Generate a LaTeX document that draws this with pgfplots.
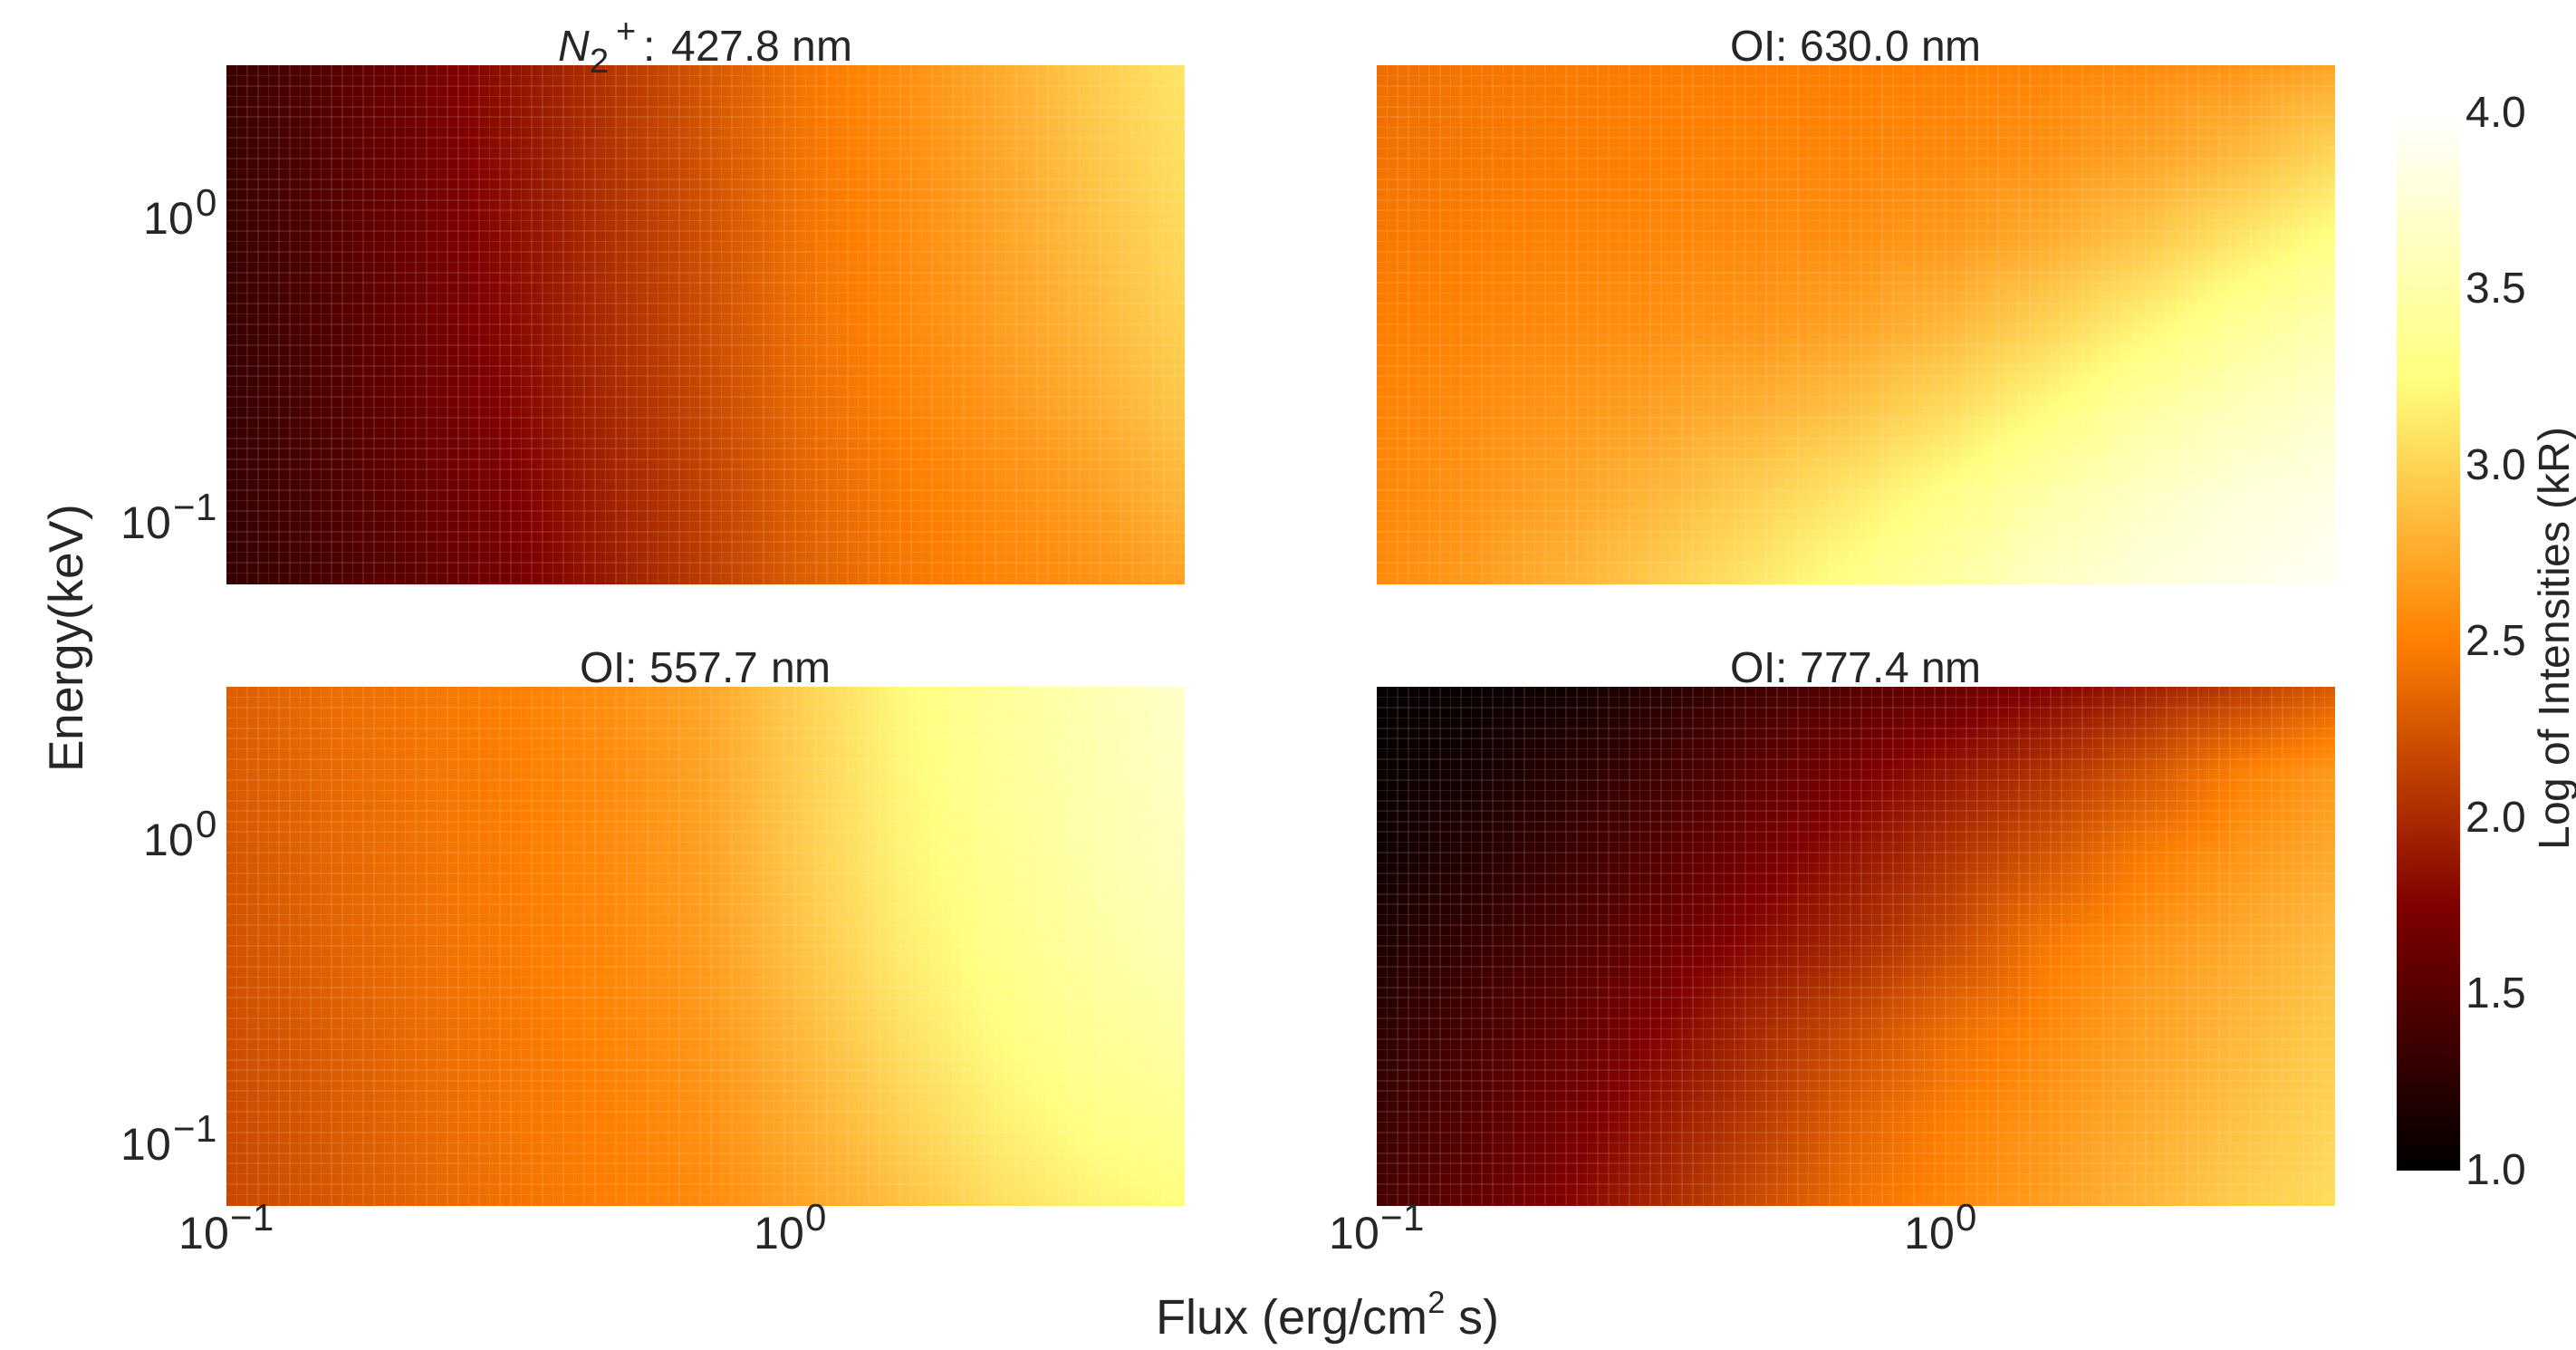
\documentclass[border=0pt]{standalone}
\usepackage{fontspec}
\setmainfont{Liberation Sans}
\usepackage{pgfplots}
\pgfplotsset{compat=1.18}
\definecolor{txt}{gray}{0.15}
\newcommand\lsup[1]{\kern0.5pt\raisebox{0.4em}{\fontsize{10.5}{10.5}\selectfont #1}}
\newcommand\cellgrid{%
  \foreach \i in {1,...,90}{\draw[white, opacity=0.1, line width=0.4pt] (axis description cs:\i/91,0) -- (axis description cs:\i/91,1);}%
  \foreach \i in {1,...,49}{\draw[white, opacity=0.1, line width=0.4pt] (axis description cs:0,\i/50) -- (axis description cs:1,\i/50);}%
}
\pgfplotsset{colormap={afmhot}{rgb=(0,0,0) rgb=(.5,0,0) rgb=(1,.5,0) rgb=(1,1,.5) rgb=(1,1,1)}}
\pgfplotsset{
  /pgfplots/hmpanel/.style={
    scale only axis, width=264.5pt, height=143pt,
    xmin=0.1, xmax=5, ymin=0.06, ymax=3,
    view={0}{90}, colormap name=afmhot, point meta min=1, point meta max=4,
    axis line style={draw=none}, major tick length=0pt, minor tick length=0pt,
    xtick={0.1,1}, ytick={0.1,1},
    xticklabels={}, yticklabels={},
    tick label style={font=\fontsize{12.5}{12.5}\selectfont, text=txt},
    title style={font=\fontsize{12}{12}\selectfont, text=txt, yshift=-7.2pt, inner sep=2pt},
    anchor=south west, clip=true,
    xticklabel style={yshift=3.7pt},
    yticklabel style={xshift=0.9pt, yshift=-0.3pt},
    after end axis/.code={\cellgrid},
  },
  /pgfplots/hmsurf/.style={surf, shader=interp, mesh/rows=7, mesh/cols=11, mesh/ordering=x varies, point meta=z},
}
\begin{document}
\begin{tikzpicture}[x=1pt,y=1pt]
\path[use as bounding box] (0,0) rectangle (711,372.25);

% N2+ 427.8 nm
\begin{loglogaxis}[hmpanel, at={(62.5pt,211.25pt)},
  yticklabels={10\lsup{−1},10\lsup{0}},
  title={\textit{N}\raisebox{-0.28em}[0pt][0pt]{\fontsize{9.5}{9.5}\selectfont 2}\,\raisebox{0.42em}[0pt][0pt]{\fontsize{9.5}{9.5}\selectfont +}\,: 427.8 nm}]
\addplot3[hmsurf] table[row sep=\\]{
x y z\\
0.1 0.06 1.31\\ 0.148 0.06 1.42\\ 0.219 0.06 1.56\\ 0.324 0.06 1.70\\ 0.479 0.06 1.90\\ 0.708 0.06 2.10\\ 1.047 0.06 2.30\\ 1.549 0.06 2.44\\ 2.29 0.06 2.52\\ 3.39 0.06 2.60\\ 5 0.06 2.70\\
0.1 0.115 1.31\\ 0.148 0.115 1.44\\ 0.219 0.115 1.59\\ 0.324 0.115 1.74\\ 0.479 0.115 1.94\\ 0.708 0.115 2.13\\ 1.047 0.115 2.33\\ 1.549 0.115 2.47\\ 2.29 0.115 2.57\\ 3.39 0.115 2.68\\ 5 0.115 2.82\\
0.1 0.221 1.31\\ 0.148 0.221 1.46\\ 0.219 0.221 1.62\\ 0.324 0.221 1.78\\ 0.479 0.221 1.98\\ 0.708 0.221 2.17\\ 1.047 0.221 2.37\\ 1.549 0.221 2.51\\ 2.29 0.221 2.62\\ 3.39 0.221 2.76\\ 5 0.221 2.92\\
0.1 0.424 1.32\\ 0.148 0.424 1.47\\ 0.219 0.424 1.64\\ 0.324 0.424 1.81\\ 0.479 0.424 2.01\\ 0.708 0.424 2.20\\ 1.047 0.424 2.40\\ 1.549 0.424 2.54\\ 2.29 0.424 2.67\\ 3.39 0.424 2.82\\ 5 0.424 2.98\\
0.1 0.815 1.33\\ 0.148 0.815 1.48\\ 0.219 0.815 1.65\\ 0.324 0.815 1.83\\ 0.479 0.815 2.03\\ 0.708 0.815 2.22\\ 1.047 0.815 2.42\\ 1.549 0.815 2.56\\ 2.29 0.815 2.70\\ 3.39 0.815 2.87\\ 5 0.815 3.03\\
0.1 1.565 1.33\\ 0.148 1.565 1.49\\ 0.219 1.565 1.66\\ 0.324 1.565 1.85\\ 0.479 1.565 2.05\\ 0.708 1.565 2.24\\ 1.047 1.565 2.43\\ 1.549 1.565 2.57\\ 2.29 1.565 2.72\\ 3.39 1.565 2.91\\ 5 1.565 3.07\\
0.1 3 1.34\\ 0.148 3 1.50\\ 0.219 3 1.67\\ 0.324 3 1.86\\ 0.479 3 2.06\\ 0.708 3 2.26\\ 1.047 3 2.44\\ 1.549 3 2.58\\ 2.29 3 2.74\\ 3.39 3 2.94\\ 5 3 3.10\\
};
\end{loglogaxis}

% OI 630.0 nm
\begin{loglogaxis}[hmpanel, at={(380pt,211.25pt)}, title={OI: 630.0 nm}]
\addplot3[hmsurf] table[row sep=\\]{
x y z\\
0.1 0.06 2.56\\ 0.148 0.06 2.66\\ 0.219 0.06 2.80\\ 0.324 0.06 2.96\\ 0.479 0.06 3.12\\ 0.708 0.06 3.30\\ 1.047 0.06 3.48\\ 1.549 0.06 3.66\\ 2.29 0.06 3.78\\ 3.39 0.06 3.87\\ 5 0.06 3.93\\
0.1 0.115 2.54\\ 0.148 0.115 2.62\\ 0.219 0.115 2.72\\ 0.324 0.115 2.84\\ 0.479 0.115 2.98\\ 0.708 0.115 3.13\\ 1.047 0.115 3.30\\ 1.549 0.115 3.50\\ 2.29 0.115 3.66\\ 3.39 0.115 3.78\\ 5 0.115 3.86\\
0.1 0.221 2.52\\ 0.148 0.221 2.57\\ 0.219 0.221 2.63\\ 0.324 0.221 2.70\\ 0.479 0.221 2.79\\ 0.708 0.221 2.90\\ 1.047 0.221 3.05\\ 1.549 0.221 3.24\\ 2.29 0.221 3.44\\ 3.39 0.221 3.60\\ 5 0.221 3.72\\
0.1 0.424 2.49\\ 0.148 0.424 2.52\\ 0.219 0.424 2.56\\ 0.324 0.424 2.59\\ 0.479 0.424 2.63\\ 0.708 0.424 2.71\\ 1.047 0.424 2.83\\ 1.549 0.424 2.99\\ 2.29 0.424 3.18\\ 3.39 0.424 3.38\\ 5 0.424 3.53\\
0.1 0.815 2.46\\ 0.148 0.815 2.49\\ 0.219 0.815 2.52\\ 0.324 0.815 2.54\\ 0.479 0.815 2.56\\ 0.708 0.815 2.59\\ 1.047 0.815 2.65\\ 1.549 0.815 2.76\\ 2.29 0.815 2.91\\ 3.39 0.815 3.10\\ 5 0.815 3.28\\
0.1 1.565 2.42\\ 0.148 1.565 2.45\\ 0.219 1.565 2.48\\ 0.324 1.565 2.50\\ 0.479 1.565 2.52\\ 0.708 1.565 2.53\\ 1.047 1.565 2.55\\ 1.549 1.565 2.60\\ 2.29 1.565 2.69\\ 3.39 1.565 2.83\\ 5 1.565 3.00\\
0.1 3 2.40\\ 0.148 3 2.44\\ 0.219 3 2.47\\ 0.324 3 2.48\\ 0.479 3 2.48\\ 0.708 3 2.49\\ 1.047 3 2.50\\ 1.549 3 2.52\\ 2.29 3 2.56\\ 3.39 3 2.62\\ 5 3 2.72\\
};
\end{loglogaxis}

% OI 557.7 nm
\begin{loglogaxis}[hmpanel, at={(62.5pt,39.75pt)},
  yticklabels={10\lsup{−1},10\lsup{0}}, xticklabels={10\lsup{−1},10\lsup{0}},
  title={OI: 557.7 nm}]
\addplot3[hmsurf] table[row sep=\\]{
x y z\\
0.1 0.06 2.17\\ 0.148 0.06 2.25\\ 0.219 0.06 2.34\\ 0.324 0.06 2.42\\ 0.479 0.06 2.49\\ 0.708 0.06 2.56\\ 1.047 0.06 2.71\\ 1.549 0.06 2.87\\ 2.29 0.06 3.05\\ 3.39 0.06 3.17\\ 5 0.06 3.24\\
0.1 0.115 2.19\\ 0.148 0.115 2.27\\ 0.219 0.115 2.36\\ 0.324 0.115 2.44\\ 0.479 0.115 2.50\\ 0.708 0.115 2.60\\ 1.047 0.115 2.77\\ 1.549 0.115 2.97\\ 2.29 0.115 3.15\\ 3.39 0.115 3.28\\ 5 0.115 3.36\\
0.1 0.221 2.21\\ 0.148 0.221 2.29\\ 0.219 0.221 2.38\\ 0.324 0.221 2.45\\ 0.479 0.221 2.53\\ 0.708 0.221 2.64\\ 1.047 0.221 2.84\\ 1.549 0.221 3.06\\ 2.29 0.221 3.24\\ 3.39 0.221 3.37\\ 5 0.221 3.47\\
0.1 0.424 2.23\\ 0.148 0.424 2.32\\ 0.219 0.424 2.40\\ 0.324 0.424 2.47\\ 0.479 0.424 2.54\\ 0.708 0.424 2.67\\ 1.047 0.424 2.90\\ 1.549 0.424 3.13\\ 2.29 0.424 3.30\\ 3.39 0.424 3.44\\ 5 0.424 3.55\\
0.1 0.815 2.25\\ 0.148 0.815 2.34\\ 0.219 0.815 2.41\\ 0.324 0.815 2.48\\ 0.479 0.815 2.56\\ 0.708 0.815 2.69\\ 1.047 0.815 2.94\\ 1.549 0.815 3.17\\ 2.29 0.815 3.34\\ 3.39 0.815 3.49\\ 5 0.815 3.61\\
0.1 1.565 2.28\\ 0.148 1.565 2.36\\ 0.219 1.565 2.43\\ 0.324 1.565 2.49\\ 0.479 1.565 2.57\\ 0.708 1.565 2.71\\ 1.047 1.565 2.96\\ 1.549 1.565 3.19\\ 2.29 1.565 3.37\\ 3.39 1.565 3.51\\ 5 1.565 3.65\\
0.1 3 2.30\\ 0.148 3 2.38\\ 0.219 3 2.44\\ 0.324 3 2.50\\ 0.479 3 2.59\\ 0.708 3 2.72\\ 1.047 3 2.97\\ 1.549 3 3.21\\ 2.29 3 3.39\\ 3.39 3 3.53\\ 5 3 3.68\\
};
\end{loglogaxis}

% OI 777.4 nm
\begin{loglogaxis}[hmpanel, at={(380pt,39.75pt)},
  xticklabels={10\lsup{−1},10\lsup{0}},
  title={OI: 777.4 nm},
  colorbar, colorbar/width=17.5pt,
  colorbar style={
    at={(1.06427,0.0678)}, anchor=south west,
    scale only axis, height=291.9pt,
    ymin=1, ymax=4, ytick={1,1.5,2,2.5,3,3.5,4},
    yticklabel style={/pgf/number format/.cd, fixed, fixed zerofill, precision=1, assume math mode=true, /tikz/.cd, font=\fontsize{12}{12}\selectfont, text=txt, xshift=-1.8pt},
    axis line style={draw=none}, major tick length=0pt,
  }]
\addplot3[hmsurf] table[row sep=\\]{
x y z\\
0.1 0.06 1.42\\ 0.148 0.06 1.58\\ 0.219 0.06 1.78\\ 0.324 0.06 2.00\\ 0.479 0.06 2.20\\ 0.708 0.06 2.42\\ 1.047 0.06 2.55\\ 1.549 0.06 2.68\\ 2.29 0.06 2.82\\ 3.39 0.06 2.95\\ 5 0.06 3.05\\
0.1 0.115 1.35\\ 0.148 0.115 1.50\\ 0.219 0.115 1.68\\ 0.324 0.115 1.90\\ 0.479 0.115 2.10\\ 0.708 0.115 2.33\\ 1.047 0.115 2.50\\ 1.549 0.115 2.63\\ 2.29 0.115 2.76\\ 3.39 0.115 2.89\\ 5 0.115 3.00\\
0.1 0.221 1.27\\ 0.148 0.221 1.42\\ 0.219 0.221 1.58\\ 0.324 0.221 1.78\\ 0.479 0.221 2.00\\ 0.708 0.221 2.20\\ 1.047 0.221 2.40\\ 1.549 0.221 2.56\\ 2.29 0.221 2.70\\ 3.39 0.221 2.83\\ 5 0.221 2.94\\
0.1 0.424 1.18\\ 0.148 0.424 1.32\\ 0.219 0.424 1.46\\ 0.324 0.424 1.64\\ 0.479 0.424 1.82\\ 0.708 0.424 2.00\\ 1.047 0.424 2.20\\ 1.549 0.424 2.46\\ 2.29 0.424 2.62\\ 3.39 0.424 2.75\\ 5 0.424 2.87\\
0.1 0.815 1.10\\ 0.148 0.815 1.22\\ 0.219 0.815 1.36\\ 0.324 0.815 1.52\\ 0.479 0.815 1.70\\ 0.708 0.815 1.88\\ 1.047 0.815 2.06\\ 1.549 0.815 2.26\\ 2.29 0.815 2.48\\ 3.39 0.815 2.64\\ 5 0.815 2.76\\
0.1 1.565 1.05\\ 0.148 1.565 1.12\\ 0.219 1.565 1.24\\ 0.324 1.565 1.38\\ 0.479 1.565 1.55\\ 0.708 1.565 1.72\\ 1.047 1.565 1.88\\ 1.549 1.565 2.05\\ 2.29 1.565 2.25\\ 3.39 1.565 2.50\\ 5 1.565 2.65\\
0.1 3 1.03\\ 0.148 3 1.05\\ 0.219 3 1.10\\ 0.324 3 1.24\\ 0.479 3 1.38\\ 0.708 3 1.50\\ 1.047 3 1.62\\ 1.549 3 1.76\\ 2.29 3 1.92\\ 3.39 3 2.10\\ 5 3 2.28\\
};
\end{loglogaxis}

\node[text=txt, font=\fontsize{13.5}{13.5}\selectfont, anchor=base] at (366.5,4.2) {Flux (erg/cm\raisebox{0.42em}{\fontsize{8.6}{8.6}\selectfont 2} s)};
\node[text=txt, font=\fontsize{13.3}{13.3}\selectfont, rotate=90] at (19.4,196) {Energy(keV)};
\node[text=txt, font=\fontsize{12}{12}\selectfont, rotate=90] at (705.9,196) {Log of Intensities (kR)};
\end{tikzpicture}
\end{document}
